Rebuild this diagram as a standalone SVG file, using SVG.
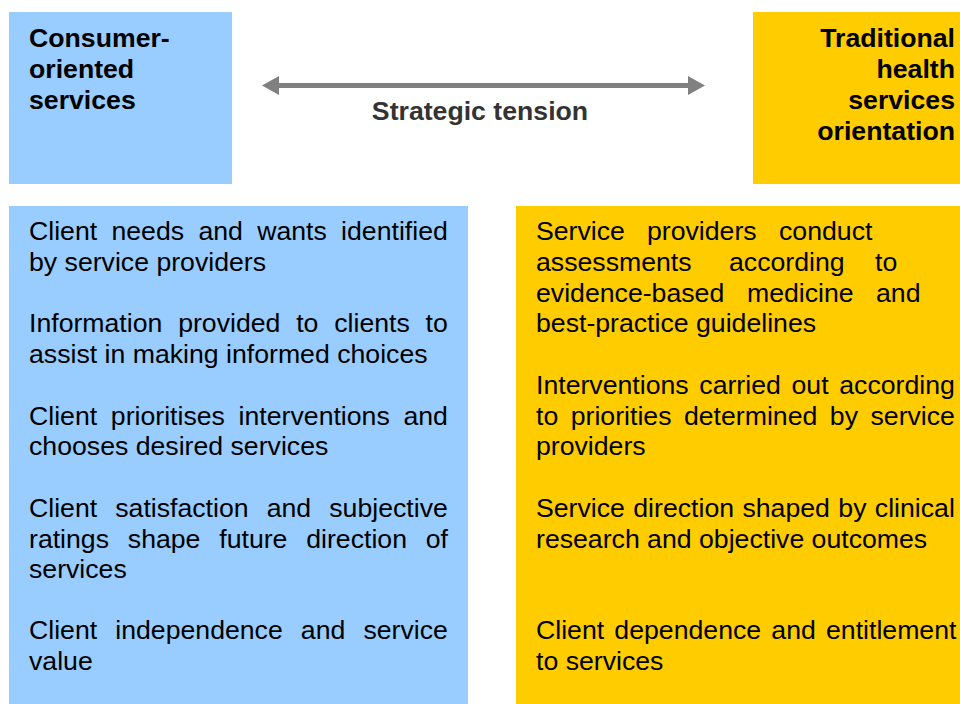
<svg xmlns="http://www.w3.org/2000/svg" width="960" height="704" viewBox="0 0 960 704">
  <style>
    .blue { fill: #99CCFF; }
    .gold { fill: #FFCC00; }
    .head { font-family: "Liberation Sans", Arial, sans-serif; font-size: 26.67px; font-weight: bold; fill: #000000; }
    .body { font-family: "Liberation Sans", Arial, sans-serif; font-size: 26.67px; fill: #000000; }
    .tension { font-family: "Liberation Sans", Arial, sans-serif; font-size: 26.67px; font-weight: bold; fill: #333333; }
    .link { stroke: #808080; stroke-width: 5; fill: none; }
  </style>
  <defs>
    <marker id="arrowhead" viewBox="0 0 17 19" refX="2" refY="9.5" markerWidth="17" markerHeight="19" markerUnits="userSpaceOnUse" orient="auto-start-reverse">
      <path d="M0,0 L17,9.5 L0,19 Z" fill="#808080"/>
    </marker>
  </defs>

  <rect width="960" height="704" fill="#FFFFFF"/>

  <g id="consumer-header">
    <rect class="blue" x="9" y="12" width="223" height="172"/>
    <text class="head" x="29" y="47">Consumer-</text>
    <text class="head" x="29" y="78">oriented</text>
    <text class="head" x="29" y="109">services</text>
  </g>

  <g id="traditional-header">
    <rect class="gold" x="753" y="12" width="207" height="172"/>
    <text class="head" x="955" y="47" text-anchor="end">Traditional</text>
    <text class="head" x="955" y="78" text-anchor="end">health</text>
    <text class="head" x="955" y="109" text-anchor="end">services</text>
    <text class="head" x="955" y="140" text-anchor="end">orientation</text>
  </g>

  <g id="connectors">
    <line class="link" x1="277" y1="85.5" x2="690" y2="85.5" marker-start="url(#arrowhead)" marker-end="url(#arrowhead)"/>
    <text class="tension" x="480" y="120" text-anchor="middle">Strategic tension</text>
  </g>

  <g id="consumer-details">
    <rect class="blue" x="9" y="206" width="459" height="498"/>
    <text class="body" x="29" y="240" word-spacing="6.9">Client needs and wants identified</text>
    <text class="body" x="29" y="271">by service providers</text>
    <text class="body" x="29" y="332" word-spacing="8.4">Information provided to clients to</text>
    <text class="body" x="29" y="363">assist in making informed choices</text>
    <text class="body" x="29" y="425" word-spacing="6.3">Client prioritises interventions and</text>
    <text class="body" x="29" y="455">chooses desired services</text>
    <text class="body" x="29" y="517" word-spacing="10.7">Client satisfaction and subjective</text>
    <text class="body" x="29" y="548" word-spacing="11.4">ratings shape future direction of</text>
    <text class="body" x="29" y="578">services</text>
    <text class="body" x="29" y="639" word-spacing="10.7">Client independence and service</text>
    <text class="body" x="29" y="670">value</text>
  </g>

  <g id="traditional-details">
    <rect class="gold" x="516" y="206" width="444" height="498"/>
    <text class="body" y="240"><tspan x="536">Service</tspan><tspan x="647">providers</tspan><tspan x="779">conduct</tspan></text>
    <text class="body" y="271"><tspan x="536">assessments</tspan><tspan x="729">according</tspan><tspan x="875">to</tspan></text>
    <text class="body" y="302"><tspan x="536">evidence-based</tspan><tspan x="747">medicine</tspan><tspan x="876">and</tspan></text>
    <text class="body" x="536" y="332">best-practice guidelines</text>
    <text class="body" x="536" y="394" word-spacing="3.3">Interventions carried out according</text>
    <text class="body" x="536" y="425" word-spacing="5.1">to priorities determined by service</text>
    <text class="body" x="536" y="455">providers</text>
    <text class="body" x="536" y="517" word-spacing="1.0">Service direction shaped by clinical</text>
    <text class="body" x="536" y="548">research and objective outcomes</text>
    <text class="body" x="536" y="639" word-spacing="2.8">Client dependence and entitlement</text>
    <text class="body" x="536" y="670">to services</text>
  </g>
</svg>
